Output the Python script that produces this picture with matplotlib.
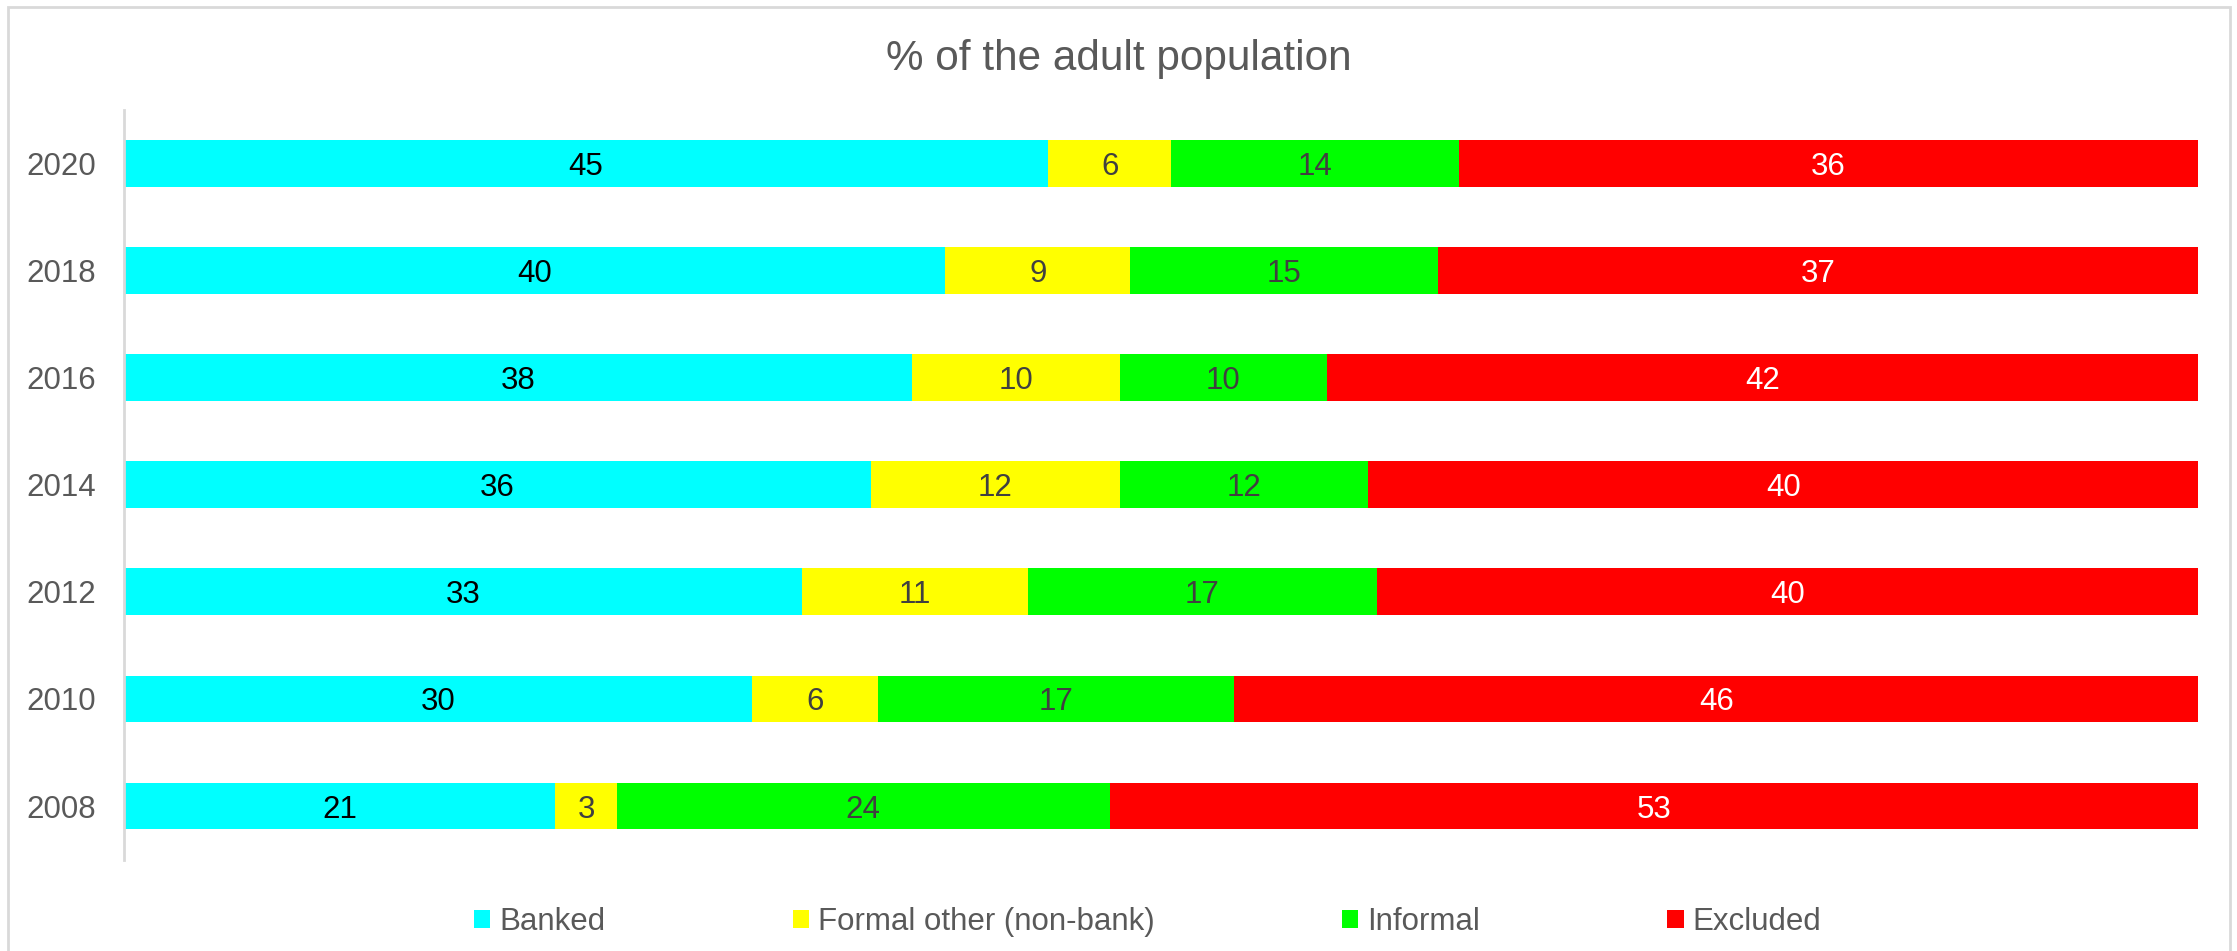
import matplotlib.pyplot as plt
import matplotlib.patches as mpatches
import numpy as np

plt.rcParams['font.family'] = ['Liberation Sans', 'DejaVu Sans']

years = ['2008', '2010', '2012', '2014', '2016', '2018', '2020']
categories = ['Banked', 'Formal other (non-bank)', 'Informal', 'Excluded']
banked = [21, 30, 33, 36, 38, 40, 45]
formal_other = [3, 6, 11, 12, 10, 9, 6]
informal = [24, 17, 17, 12, 10, 15, 14]
excluded = [53, 46, 40, 40, 42, 37, 36]

colors = ['#00FFFF', '#FFFF00', '#00FF00', '#FF0000']
label_colors = ['#000000', '#404040', '#404040', '#FFFFFF']

series = np.array([banked, formal_other, informal, excluded], dtype=float)
shares = series / series.sum(axis=0) * 100  # 100% stacked

fig = plt.figure(figsize=(22.37, 9.51), dpi=100)
ax = fig.add_axes([0.0554, 0.0961, 0.9272, 0.7885])

# light gray chart border
fig.patches.append(mpatches.Rectangle((8 / 2237, -0.05), 2222 / 2237, 0.05 + 944 / 951,
                                      transform=fig.transFigure, fill=False,
                                      edgecolor='#d9d9d9', linewidth=2))

y = np.arange(len(years))
left = np.zeros(len(years))
for i, name in enumerate(categories):
    ax.barh(y, shares[i], left=left, height=0.436, color=colors[i], label=name)
    for j in range(len(years)):
        ax.text(left[j] + shares[i][j] / 2, y[j], f'{int(series[i][j])}',
                ha='center', va='center_baseline', fontsize=22.5, color=label_colors[i])
    left += shares[i]

ax.set_xlim(0, 100)
ax.set_ylim(-0.5, len(years) - 0.5)
ax.set_yticks(y)
ax.set_yticklabels(years, fontsize=22.5, color='#595959', va='center_baseline')
ax.set_xticks([])
ax.tick_params(axis='y', length=0, pad=20)
for side in ['top', 'right', 'bottom']:
    ax.spines[side].set_visible(False)
ax.spines['left'].set_color('#d9d9d9')
ax.spines['left'].set_linewidth(2)

fig.text(0.5, 1 - 70 / 951, '% of the adult population', ha='center', va='baseline',
         fontsize=30.4, color='#595959')

leg = fig.legend(loc='center', bbox_to_anchor=(0.513, 1 - 922 / 951), ncol=4, frameon=False,
                 fontsize=22.5, handlelength=0.52, handleheight=0.52, handletextpad=0.28,
                 columnspacing=6.0)
for t in leg.get_texts():
    t.set_color('#595959')

plt.savefig('out.png', dpi=100)
